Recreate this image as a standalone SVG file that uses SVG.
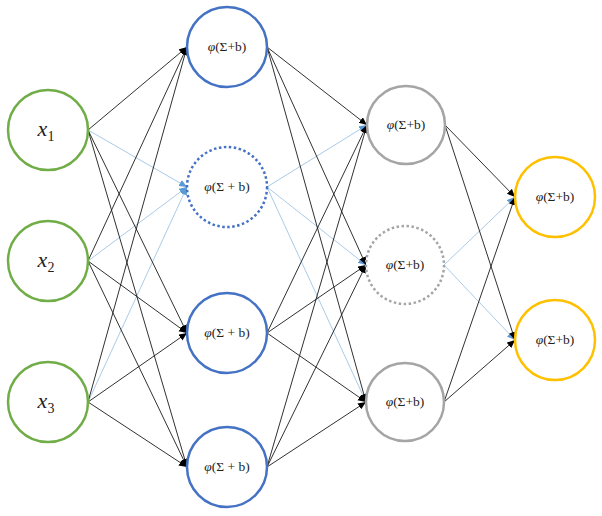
<svg xmlns="http://www.w3.org/2000/svg" width="602" height="516" viewBox="0 0 602 516">
<defs>
<marker id="ab" markerUnits="userSpaceOnUse" markerWidth="9" markerHeight="8" refX="8" refY="3.5" orient="auto"><path d="M0,0 L8,3.5 L0,7 z" fill="#000"/></marker>
<marker id="al" markerUnits="userSpaceOnUse" markerWidth="9" markerHeight="8" refX="8" refY="3.5" orient="auto"><path d="M0,0 L8,3.5 L0,7 z" fill="#5b9bd5"/></marker>
<style>
.n{fill:#fff;stroke-width:2.5}
.g{stroke:#70ad47}.b{stroke:#4472c4}.y{stroke:#a5a5a5}.o{stroke:#ffc000}
.d{stroke-dasharray:2.5 2.5}
.k line{stroke:#1a1a1a;stroke-width:0.9;marker-end:url(#ab)}
.l line{stroke:#a9cbe9;stroke-width:1;marker-end:url(#al)}
.t{font-family:"Liberation Serif","DejaVu Serif",serif;font-size:13.5px;fill:#222;text-anchor:middle}
.x{font-family:"Liberation Serif","DejaVu Serif",serif;font-size:22px;font-style:italic;fill:#222;text-anchor:middle}
</style>
</defs>
<rect width="602" height="516" fill="#fff"/>
<g id="connectors">
<g class="l">
<line x1="88" y1="130" x2="187" y2="187"/>
<line x1="88" y1="261" x2="187" y2="187"/>
<line x1="88" y1="402" x2="187" y2="187"/>
<line x1="267" y1="187" x2="367" y2="125"/>
<line x1="267" y1="187" x2="366" y2="265"/>
<line x1="267" y1="187" x2="366" y2="402"/>
<line x1="444" y1="265" x2="515" y2="197"/>
<line x1="444" y1="265" x2="515" y2="340"/>
</g>
<g class="k">
<line x1="88" y1="130" x2="187" y2="47"/>
<line x1="88" y1="130" x2="187" y2="333"/>
<line x1="88" y1="130" x2="187" y2="467"/>
<line x1="88" y1="261" x2="187" y2="47"/>
<line x1="88" y1="261" x2="187" y2="333"/>
<line x1="88" y1="261" x2="187" y2="467"/>
<line x1="88" y1="402" x2="187" y2="47"/>
<line x1="88" y1="402" x2="187" y2="333"/>
<line x1="88" y1="402" x2="187" y2="467"/>
<line x1="267" y1="47" x2="367" y2="125"/>
<line x1="267" y1="47" x2="366" y2="265"/>
<line x1="267" y1="47" x2="366" y2="402"/>
<line x1="267" y1="333" x2="367" y2="125"/>
<line x1="267" y1="333" x2="366" y2="265"/>
<line x1="267" y1="333" x2="366" y2="402"/>
<line x1="267" y1="467" x2="367" y2="125"/>
<line x1="267" y1="467" x2="366" y2="265"/>
<line x1="267" y1="467" x2="366" y2="402"/>
<line x1="445" y1="125" x2="515" y2="197"/>
<line x1="445" y1="125" x2="515" y2="340"/>
<line x1="444" y1="402" x2="515" y2="197"/>
<line x1="444" y1="402" x2="515" y2="340"/>
</g>
</g>
<g id="x1"><circle class="n g" cx="48" cy="130" r="40"/><text class="x" x="46" y="136">x<tspan font-size="14" font-style="normal" dy="5">1</tspan></text></g>
<g id="x2"><circle class="n g" cx="48" cy="261" r="40"/><text class="x" x="46" y="267">x<tspan font-size="14" font-style="normal" dy="5">2</tspan></text></g>
<g id="x3"><circle class="n g" cx="48" cy="402" r="40"/><text class="x" x="46" y="408">x<tspan font-size="14" font-style="normal" dy="5">3</tspan></text></g>
<g id="h1"><circle class="n b" cx="227" cy="47" r="40"/><text class="t" x="227" y="51"><tspan font-style="italic">φ</tspan>(Σ+b)</text></g>
<g id="h2"><circle class="n b d" cx="227" cy="187" r="40"/><text class="t" x="227" y="191"><tspan font-style="italic">φ</tspan>(Σ + b)</text></g>
<g id="h3"><circle class="n b" cx="227" cy="333" r="40"/><text class="t" x="227" y="337"><tspan font-style="italic">φ</tspan>(Σ + b)</text></g>
<g id="h4"><circle class="n b" cx="227" cy="467" r="40"/><text class="t" x="227" y="471"><tspan font-style="italic">φ</tspan>(Σ + b)</text></g>
<g id="g1"><circle class="n y" cx="406" cy="125" r="39"/><text class="t" x="406" y="129"><tspan font-style="italic">φ</tspan>(Σ+b)</text></g>
<g id="g2"><circle class="n y d" cx="405" cy="265" r="39"/><text class="t" x="405" y="269"><tspan font-style="italic">φ</tspan>(Σ+b)</text></g>
<g id="g3"><circle class="n y" cx="405" cy="402" r="39"/><text class="t" x="405" y="406"><tspan font-style="italic">φ</tspan>(Σ+b)</text></g>
<g id="o1"><circle class="n o" cx="555" cy="197" r="40"/><text class="t" x="555" y="201"><tspan font-style="italic">φ</tspan>(Σ+b)</text></g>
<g id="o2"><circle class="n o" cx="555" cy="340" r="40"/><text class="t" x="555" y="344"><tspan font-style="italic">φ</tspan>(Σ+b)</text></g>
</svg>
